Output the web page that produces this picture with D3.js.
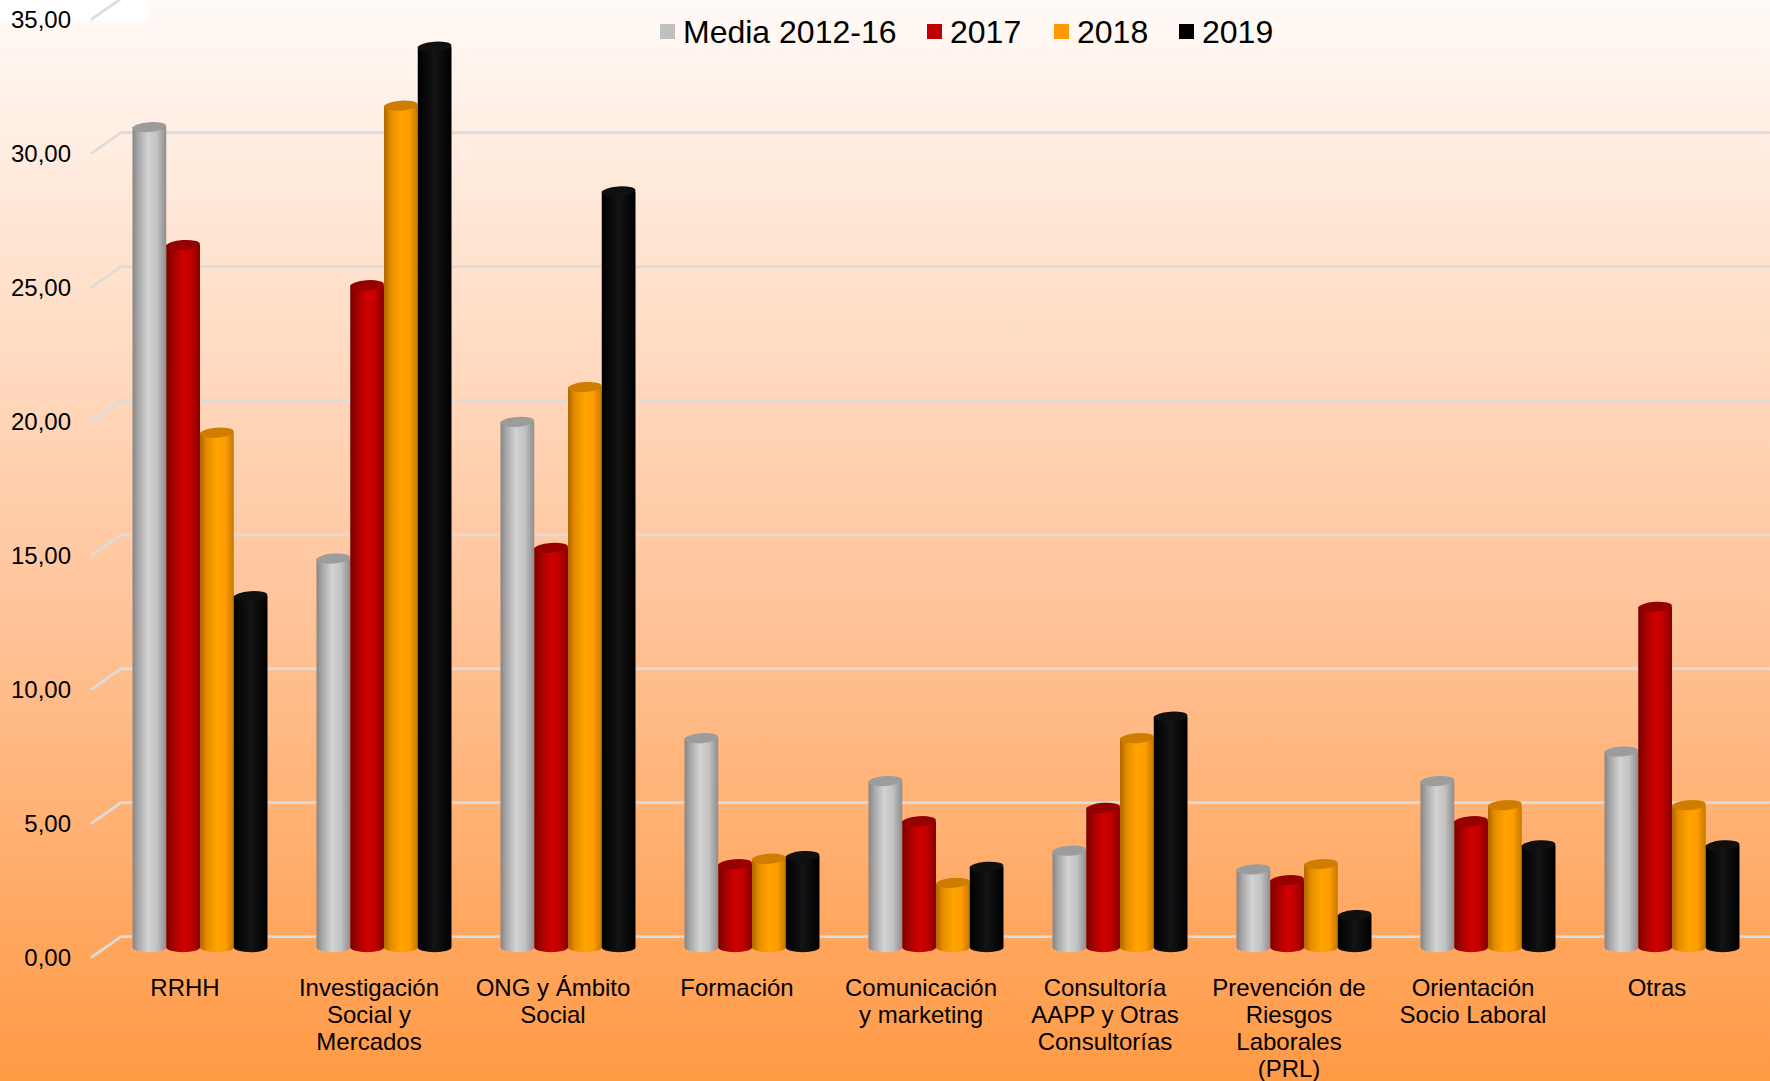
<!DOCTYPE html>
<html>
<head>
<meta charset="utf-8">
<script src="https://cdn.jsdelivr.net/npm/d3@7"></script>
<style>
  html, body { margin: 0; padding: 0; background: #fff; }
  svg { display: block; font-family: "Liberation Sans", Arial, sans-serif; }
</style>
</head>
<body>
<svg id="chart" width="1770" height="1081"></svg>
<script>
// ---------- data ----------
const categories = ["RRHH", "Investigación Social y Mercados", "ONG y Ámbito Social", "Formación",
  "Comunicación y marketing", "Consultoría AAPP y Otras Consultorías",
  "Prevención de Riesgos Laborales (PRL)", "Orientación Socio Laboral", "Otras"];
const categoryLines = [
  ["RRHH"],
  ["Investigación", "Social y", "Mercados"],
  ["ONG y Ámbito", "Social"],
  ["Formación"],
  ["Comunicación", "y marketing"],
  ["Consultoría", "AAPP y Otras", "Consultorías"],
  ["Prevención de", "Riesgos", "Laborales", "(PRL)"],
  ["Orientación", "Socio Laboral"],
  ["Otras"]
];
const seriesNames = ["Media 2012-16", "2017", "2018", "2019"];
const media2012_16 = [30.6, 14.5, 19.6, 7.8, 6.2, 3.6, 2.9, 6.2, 7.3];
const values2017   = [26.2, 24.7, 14.9, 3.1, 4.7, 5.2, 2.5, 4.7, 12.7];
const values2018   = [19.2, 31.4, 20.9, 3.3, 2.4, 7.8, 3.1, 5.3, 5.3];
const values2019   = [13.1, 33.6, 28.2, 3.4, 3.0, 8.6, 1.2, 3.8, 3.8];
const seriesValues = [media2012_16, values2017, values2018, values2019];
const yTicks = [0, 5, 10, 15, 20, 25, 30, 35];

// ---------- styles ----------
const legendColors = ["#c0c0c0", "#c00000", "#ff9900", "#000000"];
const bodyStops = [
  [["0%", "#858585"], ["18%", "#a9a9a9"], ["45%", "#d2d2d2"], ["72%", "#c2c2c2"], ["100%", "#8e8e8e"]],
  [["0%", "#760000"], ["20%", "#a30000"], ["50%", "#cf0000"], ["75%", "#c00000"], ["100%", "#860000"]],
  [["0%", "#b06800"], ["20%", "#e58c00"], ["50%", "#ffa300"], ["75%", "#ff9c00"], ["100%", "#c27800"]],
  [["0%", "#000000"], ["50%", "#141414"], ["100%", "#000000"]]
];
const topColors = ["#9c9c9c", "#960000", "#cf7d00", "#101010"];

const W = 1770, H = 1081;
const svg = d3.select("#chart");
const defs = svg.append("defs");

const bg = defs.append("linearGradient").attr("id", "bg").attr("x1", 0).attr("y1", 0).attr("x2", 0).attr("y2", 1);
bg.append("stop").attr("offset", "0%").attr("stop-color", "#fffaf7");
bg.append("stop").attr("offset", "55%").attr("stop-color", "#ffc59c");
bg.append("stop").attr("offset", "100%").attr("stop-color", "#ff9a45");

bodyStops.forEach((stops, i) => {
  const g = defs.append("linearGradient").attr("id", "body" + i).attr("x1", 0).attr("y1", 0).attr("x2", 1).attr("y2", 0);
  stops.forEach(s => g.append("stop").attr("offset", s[0]).attr("stop-color", s[1]));
});

svg.append("rect").attr("width", W).attr("height", H).attr("fill", "url(#bg)");
svg.append("rect").attr("x", 0).attr("y", 0).attr("width", 148).attr("height", 21).attr("fill", "#ffffff");

// ---------- scales ----------
const depthX = 30, depthY = -21;
const x = d3.scaleBand().domain(categories).range([93, 93 + 9 * 184]).padding(0);
const groupW = 135;
const xs = d3.scaleBand().domain(seriesNames).range([0, groupW]).padding(0);
const y = d3.scaleLinear().domain([0, 35]).range([957.7, 19.7]); // front plane
const fmt = v => d3.format(".2f")(v).replace(".", ",");

// ---------- gridlines ----------
const grid = svg.append("g");
yTicks.forEach(t => {
  const yf = y(t);
  grid.append("path")
    .attr("d", `M${x.range()[0] - 2},${yf} L${x.range()[0] - 2 + depthX},${yf + depthY} L${W},${yf + depthY}`)
    .attr("fill", "none").attr("stroke", "#dcdcdc").attr("stroke-width", 2.7);
});

// y labels
svg.append("g").selectAll("text").data(yTicks).join("text")
  .attr("x", 71).attr("y", d => y(d)).attr("dy", "0.35em")
  .attr("text-anchor", "end").attr("font-size", 24).attr("fill", "#000")
  .text(d => fmt(d));

// ---------- bars (cylinders) ----------
const ry = 5;
const barsG = svg.append("g");
categories.forEach((c, ci) => {
  const gx = x(c) + x.bandwidth() / 2 + depthX / 2 - groupW / 2;
  seriesNames.forEach((s, si) => {
    const v = seriesValues[si][ci];
    const x0 = gx + xs(s), w = xs.bandwidth();
    const cx = x0 + w / 2;
    const yb = y(0) + depthY / 2;
    const yt = y(v) + depthY / 2;
    const g = barsG.append("g");
    g.append("path")
      .attr("d", `M${x0},${yt} L${x0},${yb} A${w / 2},${ry} 0 0 0 ${x0 + w},${yb} L${x0 + w},${yt} Z`)
      .attr("fill", `url(#body${si})`);
    g.append("ellipse")
      .attr("cx", cx).attr("cy", yt).attr("rx", w / 2).attr("ry", ry)
      .attr("transform", `rotate(-4 ${cx} ${yt})`)
      .attr("fill", topColors[si]);
  });
});

// ---------- category labels ----------
const labG = svg.append("g");
categories.forEach((c, ci) => {
  const t = labG.append("text")
    .attr("x", x(c) + x.bandwidth() / 2).attr("y", 995.5)
    .attr("text-anchor", "middle").attr("font-size", 24).attr("fill", "#000");
  categoryLines[ci].forEach((line, li) => {
    t.append("tspan").attr("x", x(c) + x.bandwidth() / 2).attr("y", 995.5 + li * 27).text(line);
  });
});

// ---------- legend ----------
const legendX = [660, 927, 1054, 1179];
const leg = svg.append("g");
seriesNames.forEach((s, i) => {
  leg.append("rect").attr("x", legendX[i]).attr("y", 24).attr("width", 15).attr("height", 15).attr("fill", legendColors[i]);
  leg.append("text").attr("x", legendX[i] + 23).attr("y", 31.6).attr("dy", "0.35em")
    .attr("font-size", 32).attr("fill", "#000").text(s);
});
</script>
</body>
</html>
